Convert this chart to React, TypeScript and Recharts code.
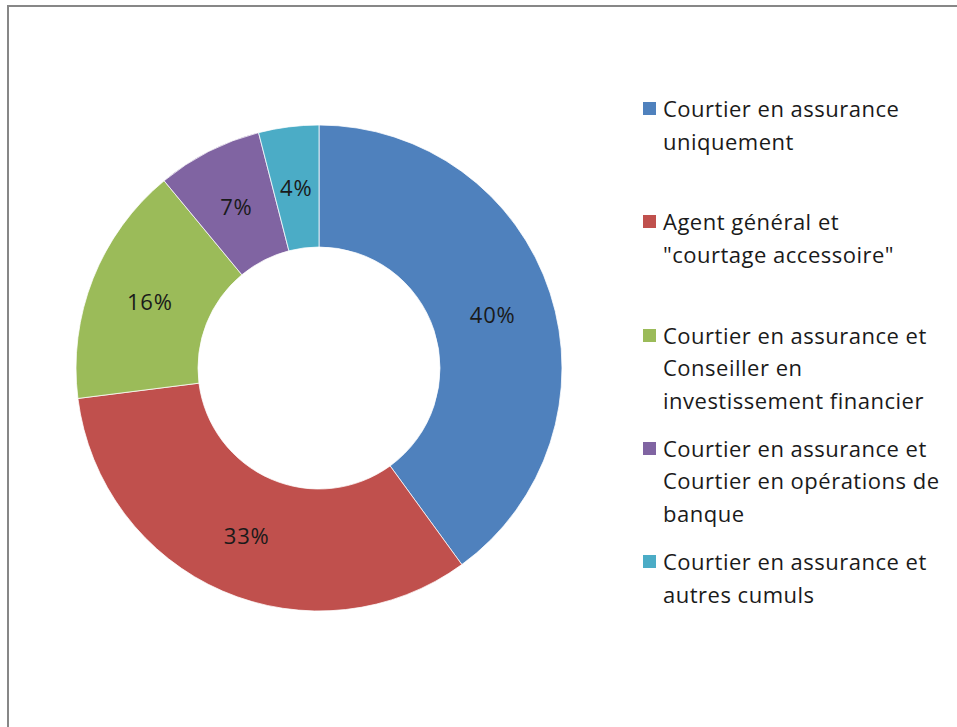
import React from 'react'
import { PieChart, Pie, Cell, Legend } from 'recharts'

const categories = [
  'Courtier en assurance uniquement',
  'Agent général et "courtage accessoire"',
  'Courtier en assurance et Conseiller en investissement financier',
  'Courtier en assurance et Courtier en opérations de banque',
  'Courtier en assurance et autres cumuls',
]

// legend wording, broken as in the original
const legendLines = [
  ['Courtier en assurance', 'uniquement'],
  ['Agent général et', '"courtage accessoire"'],
  ['Courtier en assurance et', 'Conseiller en', 'investissement financier'],
  ['Courtier en assurance et', 'Courtier en opérations de', 'banque'],
  ['Courtier en assurance et', 'autres cumuls'],
]

const shares = [40, 33, 16, 7, 4]

const colors = ['#4F81BD', '#C0504D', '#9BBB59', '#8064A2', '#4BACC6']

const data = categories.map((name, i) => ({ name, value: shares[i] }))

const FONT = '"Open Sans", "Noto Sans", sans-serif'
const RAD = Math.PI / 180

const renderLabel = (props: any) => {
  const { cx, cy, midAngle, innerRadius, outerRadius, index, value } = props
  const r = (innerRadius + outerRadius) / 2
  // the first label sits higher in the original chart
  const angle = index === 0 ? 17.4 : midAngle
  const x = cx + r * Math.cos(-angle * RAD)
  const y = cy + r * Math.sin(-angle * RAD)
  return (
    <text
      x={x}
      y={y}
      textAnchor="middle"
      dominantBaseline="central"
      fontSize={22}
      letterSpacing={0.8}
      fontFamily={FONT}
      fill="#1a1a1a"
    >
      {value}%
    </text>
  )
}

const renderLegend = () => (
  <div style={{ fontFamily: FONT, fontSize: 22, letterSpacing: 0.5, color: '#1a1a1a' }}>
    {legendLines.map((lines, i) => (
      <div key={i} style={{ height: 113.3, display: 'flex', alignItems: 'flex-start' }}>
        <div
          style={{
            width: 13,
            height: 13,
            background: colors[i],
            marginTop: 10,
            marginRight: 7,
            flexShrink: 0,
          }}
        />
        <div style={{ lineHeight: '32.6px', whiteSpace: 'nowrap' }}>
          {lines.map((l, j) => (
            <div key={j}>{l}</div>
          ))}
        </div>
      </div>
    ))}
  </div>
)

export default function App() {
  return (
    <div style={{ position: 'absolute', left: 0, top: 0, width: 957, height: 727, overflow: 'hidden', background: '#fff' }}>
      <div
        style={{
          position: 'absolute',
          left: 7,
          top: 5,
          width: 970,
          height: 740,
          borderTop: '2px solid #878787',
          borderLeft: '2px solid #878787',
        }}
      />
      <div style={{ position: 'absolute', left: 0, top: 0 }}>
        <PieChart width={957} height={727} margin={{ top: 0, right: 0, bottom: 0, left: 0 }}>
          <Pie
            data={data}
            dataKey="value"
            nameKey="name"
            cx={319}
            cy={368}
            innerRadius={121}
            outerRadius={243}
            startAngle={90}
            endAngle={-270}
            stroke="#ffffff"
            strokeWidth={0.75}
            label={renderLabel}
            labelLine={false}
            isAnimationActive={false}
          >
            {data.map((d, i) => (
              <Cell key={d.name} fill={colors[i]} />
            ))}
          </Pie>
          <Legend
            content={renderLegend}
            layout="vertical"
            wrapperStyle={{ position: 'absolute', left: 643, top: 92, width: 310 }}
          />
        </PieChart>
      </div>
    </div>
  )
}
